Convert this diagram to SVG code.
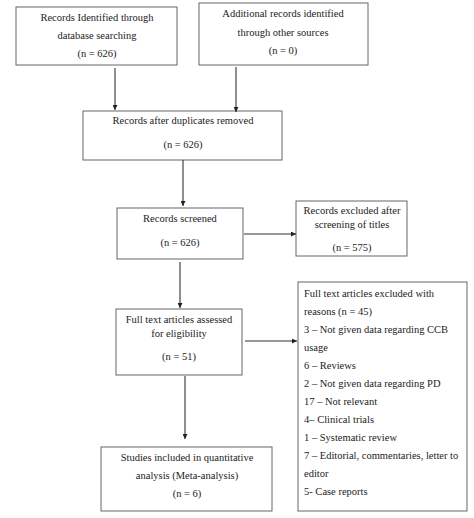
<svg xmlns="http://www.w3.org/2000/svg" width="474" height="518" viewBox="0 0 474 518">
<defs>
<marker id="ah" viewBox="0 0 10 10" refX="10" refY="5" markerWidth="5" markerHeight="5" orient="auto" markerUnits="userSpaceOnUse">
<path d="M0,0 L10,5 L0,10 z" fill="#222"/>
</marker>
</defs>
<style>
.box{fill:#fff;stroke:#666;stroke-width:1}
text{font-family:"Liberation Serif","Times New Roman",serif;font-size:10.5px;fill:#222}
.c{text-anchor:middle}
.conn line{stroke:#333;stroke-width:1.1;marker-end:url(#ah)}
</style>
<rect width="474" height="518" fill="#fff"/>
<g id="n1"><rect class="box" x="16" y="7" width="161" height="58"/>
<text class="c" x="97" y="20.5">Records Identified through</text>
<text class="c" x="97" y="38.5">database searching</text>
<text class="c" x="97" y="56.5">(n = 626)</text></g>
<g id="n2"><rect class="box" x="199" y="3" width="169" height="62"/>
<text class="c" x="283" y="16.5">Additional records identified</text>
<text class="c" x="283" y="35.5">through other sources</text>
<text class="c" x="283" y="53.5">(n = 0)</text></g>
<g id="n3"><rect class="box" x="83" y="111" width="199" height="49"/>
<text class="c" x="183" y="123.5">Records after duplicates removed</text>
<text class="c" x="183" y="147.5">(n = 626)</text></g>
<g id="n4"><rect class="box" x="117" y="208" width="126" height="51"/>
<text class="c" x="180" y="221.5">Records screened</text>
<text class="c" x="180" y="245.5">(n = 626)</text></g>
<g id="n5"><rect class="box" x="296" y="201" width="111" height="55"/>
<text class="c" x="352" y="213.5">Records excluded after</text>
<text class="c" x="352" y="227.5">screening of titles</text>
<text class="c" x="352" y="250.5">(n = 575)</text></g>
<g id="n6"><rect class="box" x="116" y="309" width="126" height="66"/>
<text class="c" x="179" y="322.5">Full text articles assessed</text>
<text class="c" x="179" y="336.5">for eligibility</text>
<text class="c" x="179" y="359.5">(n = 51)</text></g>
<g id="n7"><rect class="box" x="298" y="282" width="169" height="229"/>
<text x="304" y="296.5">Full text articles excluded with</text>
<text x="304" y="314.5">reasons (n = 45)</text>
<text x="304" y="332.5">3 – Not given data regarding CCB</text>
<text x="304" y="350.5">usage</text>
<text x="304" y="368.5">6 – Reviews</text>
<text x="304" y="386.5">2 – Not given data regarding PD</text>
<text x="304" y="404.5">17 – Not relevant</text>
<text x="304" y="422.5">4– Clinical trials</text>
<text x="304" y="440.5">1 – Systematic review</text>
<text x="304" y="458.5">7 – Editorial, commentaries, letter to</text>
<text x="304" y="476.5">editor</text>
<text x="304" y="494.5">5- Case reports</text></g>
<g id="n8"><rect class="box" x="101" y="447" width="171" height="64"/>
<text class="c" x="187" y="460.5">Studies included in quantitative</text>
<text class="c" x="187" y="478.5">analysis (Meta-analysis)</text>
<text class="c" x="187" y="496.5">(n = 6)</text></g>
<g id="connectors" class="conn">
<line x1="115" y1="68" x2="115" y2="110"/>
<line x1="236" y1="67" x2="236" y2="112"/>
<line x1="183" y1="160" x2="183" y2="206"/>
<line x1="244" y1="234" x2="296" y2="234"/>
<line x1="180" y1="262" x2="180" y2="308"/>
<line x1="245" y1="341" x2="297" y2="341"/>
<line x1="185" y1="376" x2="185" y2="439"/>
</g>
</svg>
